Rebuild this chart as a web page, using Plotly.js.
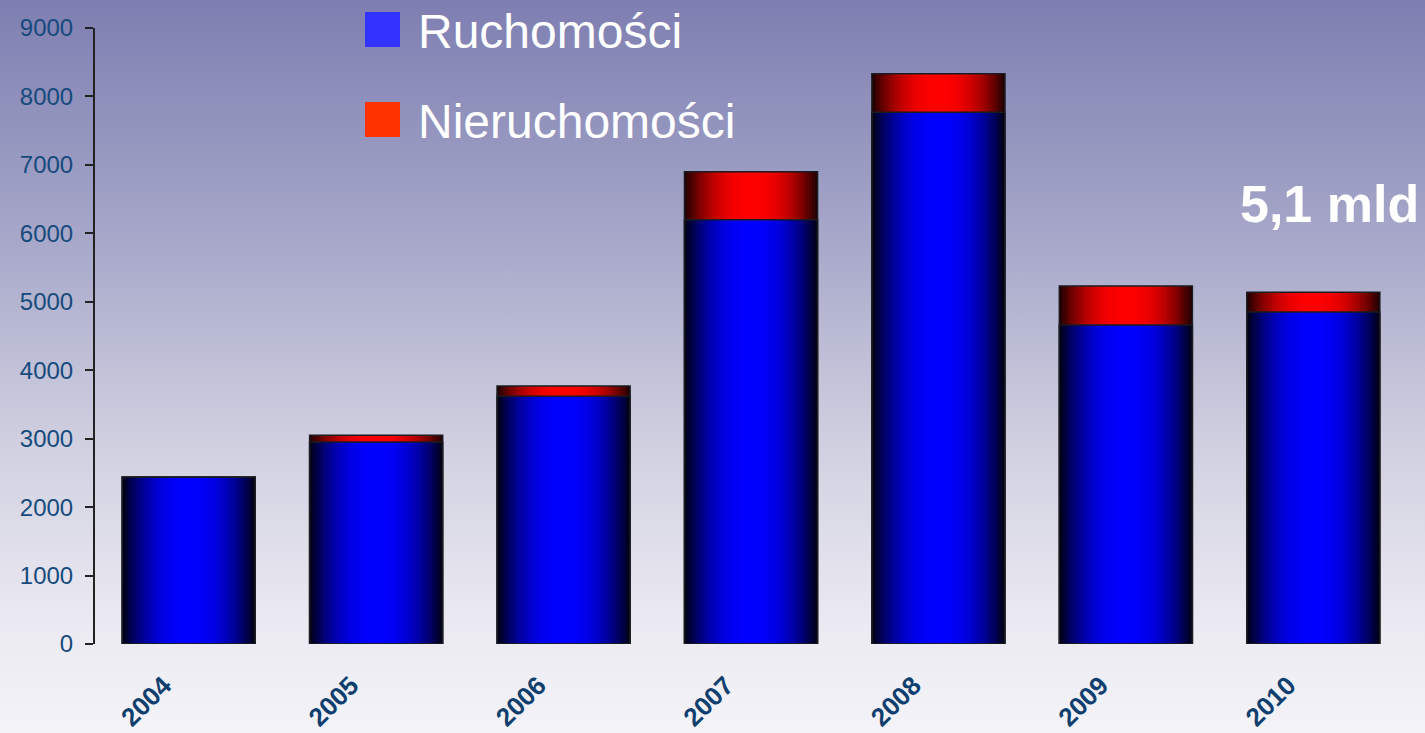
<!DOCTYPE html>
<html>
<head>
<meta charset="utf-8">
<script src="https://cdn.plot.ly/plotly-3.0.1.min.js"></script>
<style>
  html, body { margin: 0; padding: 0; }
  body { width: 1425px; height: 733px; overflow: hidden;
         background: linear-gradient(to bottom, #7e7fb1 0%, #a3a4c7 30%, #cfcfe0 60%, #ebeaf2 85%, #f4f3f8 100%); }
  #chart { width: 1425px; height: 733px; }
</style>
</head>
<body>
<div id="chart"></div>
<script>
// ---- data (millions PLN) ----
const years = ['2004', '2005', '2006', '2007', '2008', '2009', '2010'];
const ruchomosci = [2440, 2950, 3620, 6200, 7770, 4660, 4850];
const nieruchomosci = [0, 100, 150, 700, 560, 570, 290];
const seriesNames = ['Ruchomości', 'Nieruchomości'];
const yTicks = [0, 1000, 2000, 3000, 4000, 5000, 6000, 7000, 8000, 9000];
const noteText = '5,1 mld';

const totals = ruchomosci.map((v, i) => v + nieruchomosci[i]);

// ---- cylinder-like shading built from concentric overlaid bars ----
const BAR_W = 0.71;
const N = 24;
const traces = [];
for (let k = 0; k < N; k++) {
  const w = BAR_W * (1 - k / N);
  const u = (k + 0.5) / N;                // 0 = edge, 1 = centre
  const I = 1 - Math.pow(1 - u, 2.2);
  const blue = `rgb(0,0,${Math.round(14 + 241 * I)})`;
  const red = `rgb(${Math.round(26 + 229 * I)},0,0)`;
  traces.push({
    type: 'bar', x: years, y: totals, width: w,
    marker: { color: red, line: { width: 0 } },
    showlegend: false, hoverinfo: 'skip', name: seriesNames[1]
  });
  traces.push({
    type: 'bar', x: years, y: ruchomosci, width: w,
    marker: { color: blue, line: { width: 0 } },
    showlegend: false, hoverinfo: 'skip', name: seriesNames[0]
  });
}
// outlines
traces.push({
  type: 'bar', x: years, y: totals, width: BAR_W,
  marker: { color: 'rgba(0,0,0,0)', line: { width: 1.5, color: '#1b1b22' } },
  showlegend: false, name: 'Razem',
  hovertemplate: '%{x}: %{y}<extra></extra>'
});
traces.push({
  type: 'bar', x: years, y: ruchomosci, width: BAR_W,
  marker: { color: 'rgba(0,0,0,0)', line: { width: 1.5, color: '#1b1b22' } },
  showlegend: false, name: seriesNames[0],
  hovertemplate: '%{x}: %{y}<extra></extra>'
});

// plot area in pixels: x 95..1407, y 28..644
const L = 95, R = 1407, T = 28, B = 644;
const px = x => (x - L) / (R - L);
const py = y => (B - y) / (B - T);

const layout = {
  width: 1425, height: 733,
  margin: { l: L, r: 1425 - R, t: T, b: 733 - B },
  paper_bgcolor: 'rgba(0,0,0,0)',
  plot_bgcolor: 'rgba(0,0,0,0)',
  barmode: 'overlay',
  bargap: 0,
  font: { family: 'Liberation Sans, Arial, sans-serif' },
  xaxis: {
    type: 'category', range: [-0.5, 6.5],
    showline: false, showgrid: false, zeroline: false, ticks: '',
    tickangle: -45,
    ticklabelstandoff: 20,
    ticklabelshift: -25,
    tickfont: { size: 26, color: '#0f3f6e', family: 'Liberation Sans, Arial, sans-serif', weight: 'bold' }
  },
  yaxis: {
    range: [0, 9000], tickvals: yTicks,
    showgrid: false, zeroline: false,
    showline: true, linecolor: '#222222', linewidth: 2,
    ticks: 'outside', ticklen: 8, tickwidth: 2, tickcolor: '#222222',
    ticklabelstandoff: 7,
    tickfont: { size: 24, color: '#174a7c' }
  },
  shapes: [
    { type: 'rect', xref: 'paper', yref: 'paper', x0: px(365), x1: px(400), y0: py(47), y1: py(12),
      fillcolor: '#3333ff', line: { width: 0 } },
    { type: 'rect', xref: 'paper', yref: 'paper', x0: px(365), x1: px(400), y0: py(137), y1: py(102),
      fillcolor: '#ff3300', line: { width: 0 } }
  ],
  annotations: [
    { xref: 'paper', yref: 'paper', x: px(416), y: py(31), xanchor: 'left', yanchor: 'middle',
      text: seriesNames[0], showarrow: false, font: { size: 48, color: '#ffffff' } },
    { xref: 'paper', yref: 'paper', x: px(416), y: py(121), xanchor: 'left', yanchor: 'middle',
      text: seriesNames[1], showarrow: false, font: { size: 48, color: '#ffffff' } },
    { xref: 'paper', yref: 'paper', x: px(1421), y: py(204), xanchor: 'right', yanchor: 'middle',
      text: noteText, showarrow: false, font: { size: 52, color: '#ffffff', weight: 'bold' } }
  ]
};

Plotly.newPlot('chart', traces, layout, { displayModeBar: false, staticPlot: true });
</script>
</body>
</html>
